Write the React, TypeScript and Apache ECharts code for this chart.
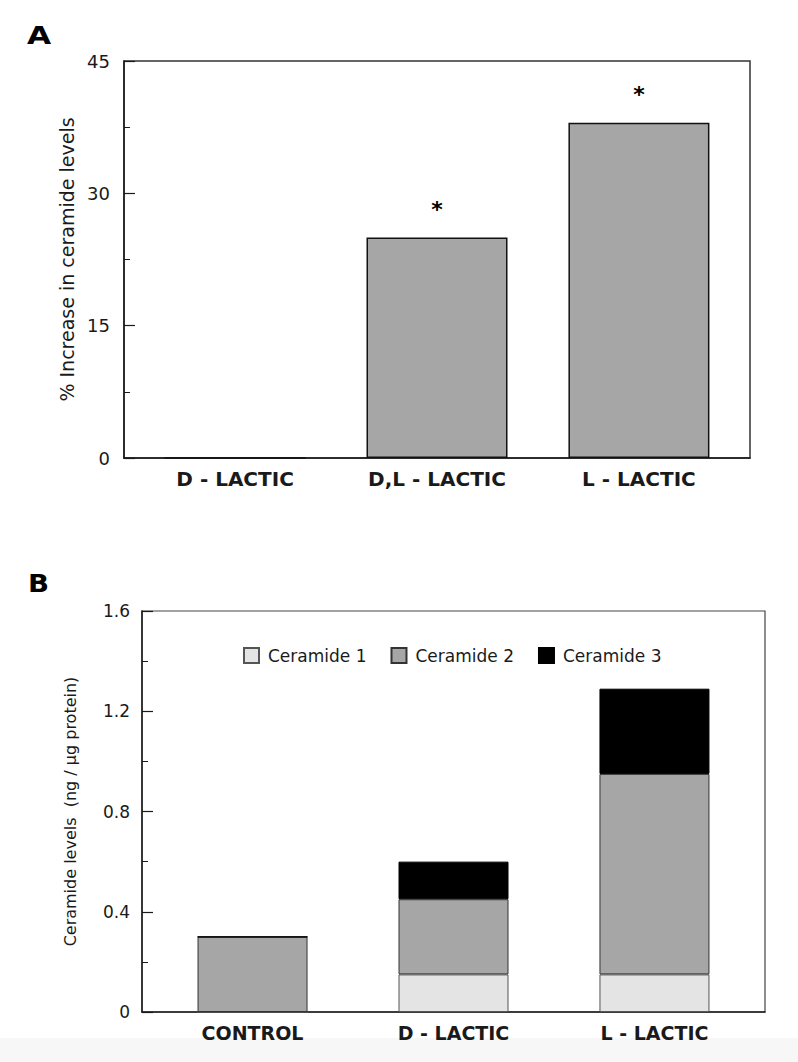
import React, { useEffect, useRef } from "react";
import * as echarts from "echarts";

// Panel A: percent increase in ceramide levels
const lacticForms = ["D - LACTIC", "D,L - LACTIC", "L - LACTIC"];
const percentIncrease = [0, 25, 38];
const significance = ["", "*", "*"];

// Panel B: ceramide fractions (ng / µg protein)
const treatments = ["CONTROL", "D - LACTIC", "L - LACTIC"];
const ceramide1 = [0, 0.15, 0.15];
const ceramide2 = [0.3, 0.3, 0.8];
const ceramide3 = [0, 0.15, 0.34];
const ceramideNames = ["Ceramide 1", "Ceramide 2", "Ceramide 3"];

const FONT = "DejaVu Sans";
const INK = "#1a1a1a";

// value first, position second, so stacking happens on the y dimension
const toPoints = (vals: number[]) => vals.map((v, i) => [v, i]);
const ENCODE = { x: 1, y: 0 };

export default function App() {
  const ref = useRef<HTMLDivElement>(null);

  useEffect(() => {
    if (!ref.current) return;
    const chart = echarts.init(ref.current, null, { renderer: "svg" });

    const yAxisBase = (extra: any) => ({
      type: "value",
      splitLine: { show: false },
      axisLine: { show: true, onZero: false, lineStyle: { color: INK, width: 1.5 } },
      axisTick: { show: true, inside: true, length: 11, lineStyle: { color: INK, width: 1.2 } },
      minorTick: { show: true, splitNumber: 2, length: 6, lineStyle: { color: INK, width: 1 } },
      nameLocation: "middle",
      nameRotate: 90,
      ...extra,
    });

    const xAxisBase = (labels: string[], fontSize: number, gridIndex: number) => ({
      type: "value",
      gridIndex,
      min: -0.55,
      max: 2.55,
      splitLine: { show: false },
      axisTick: { show: false },
      axisLine: { show: true, onZero: false, lineStyle: { color: INK, width: 1.5 } },
      axisLabel: {
        customValues: [0, 1, 2],
        formatter: (v: number) => labels[Math.round(v)] ?? "",
        fontFamily: FONT,
        fontWeight: "bold",
        fontSize,
        color: INK,
        margin: 11,
      },
    });

    const stackSeries = (name: string, vals: number[], color: string, border: string) => ({
      name,
      type: "bar",
      stack: "ceramide",
      xAxisIndex: 1,
      yAxisIndex: 1,
      barWidth: 110,
      encode: ENCODE,
      data: toPoints(vals),
      itemStyle: { color, borderColor: border, borderWidth: 1 },
    });

    chart.setOption({
      animation: false,
      backgroundColor: "#ffffff",
      grid: [
        { left: 124, top: 61, width: 626, height: 397, show: true, borderColor: "#333", borderWidth: 1.5, backgroundColor: "transparent" },
        { left: 142, top: 611, width: 623, height: 401, show: true, borderColor: "#444", borderWidth: 1.2, backgroundColor: "transparent" },
      ],
      xAxis: [xAxisBase(lacticForms, 20, 0), xAxisBase(treatments, 19, 1)],
      yAxis: [
        yAxisBase({
          gridIndex: 0,
          min: 0,
          max: 45,
          interval: 15,
          name: "% Increase in ceramide levels",
          nameGap: 46,
          nameTextStyle: { fontFamily: FONT, fontSize: 19, color: INK },
          axisLabel: { fontFamily: FONT, fontSize: 18, color: INK, margin: 14 },
        }),
        yAxisBase({
          gridIndex: 1,
          min: 0,
          max: 1.6,
          interval: 0.4,
          name: "Ceramide levels  (ng / µg protein)",
          nameGap: 64,
          nameTextStyle: { fontFamily: FONT, fontSize: 16, color: INK },
          axisLabel: {
            fontFamily: FONT,
            fontSize: 17,
            color: INK,
            margin: 12,
            formatter: (v: number) => (v === 0 ? "0" : v.toFixed(1)),
          },
        }),
      ],
      legend: {
        data: ceramideNames,
        left: 238,
        top: 642,
        icon: "rect",
        itemWidth: 15,
        itemHeight: 15,
        itemGap: 24,
        textStyle: { fontFamily: FONT, fontSize: 17, color: INK, padding: [0, 0, 0, 4] },
      },
      series: [
        {
          type: "bar",
          xAxisIndex: 0,
          yAxisIndex: 0,
          barWidth: 141,
          encode: ENCODE,
          data: toPoints(percentIncrease),
          itemStyle: { color: "#a6a6a6", borderColor: "#111", borderWidth: 1.5 },
          label: {
            show: true,
            position: "top",
            distance: 17,
            formatter: (p: any) => significance[p.dataIndex],
            fontFamily: FONT,
            fontWeight: "bold",
            fontSize: 22,
            color: "#000",
          },
        },
        stackSeries(ceramideNames[0], ceramide1, "#e4e4e4", "#555"),
        stackSeries(ceramideNames[1], ceramide2, "#a6a6a6", "#333"),
        stackSeries(ceramideNames[2], ceramide3, "#000000", "#000"),
      ],
      graphic: [
        { type: "rect", left: 0, top: 1038, shape: { width: 798, height: 24 }, style: { fill: "#f7f7f7" }, z: -1, silent: true },
        { type: "text", left: 27, top: 24, scaleX: 1.3, style: { text: "A", fontFamily: FONT, fontWeight: "bold", fontSize: 24, fill: "#000" } },
        { type: "text", left: 28, top: 572, scaleX: 1.15, style: { text: "B", fontFamily: FONT, fontWeight: "bold", fontSize: 24, fill: "#000" } },
      ],
    });

    return () => chart.dispose();
  }, []);

  return <div ref={ref} style={{ position: "absolute", left: 0, top: 0, width: 798, height: 1062 }} />;
}
